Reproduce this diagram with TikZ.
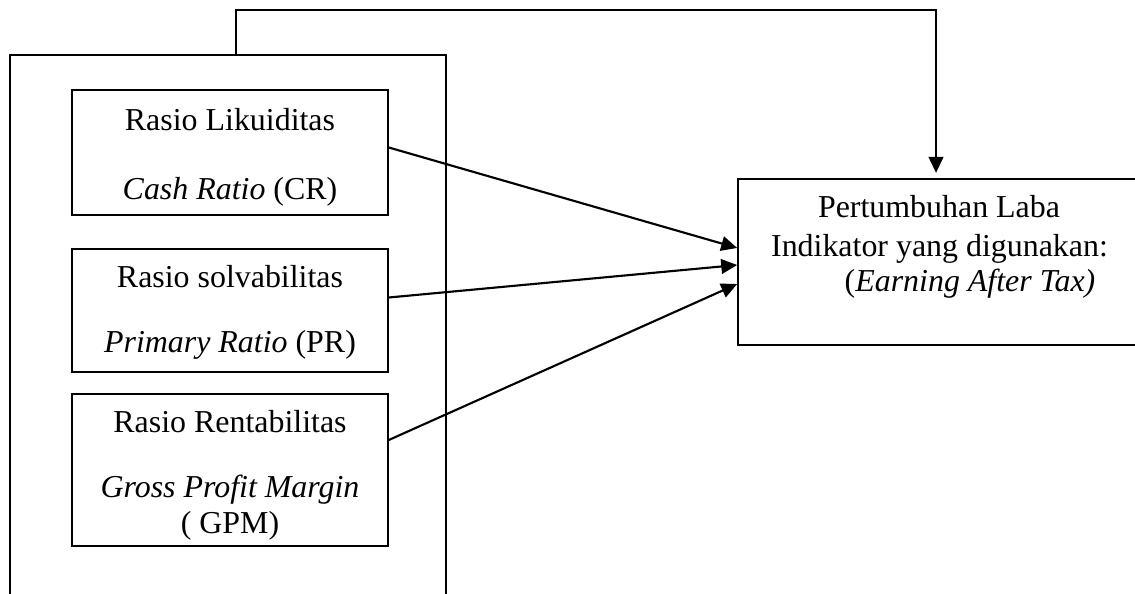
\documentclass[tikz,border=0pt]{standalone}
\usepackage{fontspec}
\setmainfont{Liberation Serif}
\usetikzlibrary{positioning, calc, arrows.meta}

\begin{document}
\begin{tikzpicture}[
    x=0.376pt, y=-0.376pt,
    line width=0.6pt,
    size/.style 2 args={minimum width=#1*0.376pt, minimum height=#2*0.376pt},
    box/.style={draw, inner sep=0pt},
    txt/.style={font=\fontsize{12}{14}\selectfont, anchor=base, inner sep=0pt},
    arr/.style={line width=0.8pt, -{Triangle[length=6pt,width=5.5pt]}}
]
    \useasboundingbox (0,0) rectangle (1135,594);

    % Outer frame (open at the bottom)
    \node[box, size={436}{565}] (group) at (228,337.5) {};

    % Ratio boxes
    \node[box, size={316}{125}] (likuid) at (230,152.5) {};
    \node[txt] (likuidA) at (230,131) {Rasio Likuiditas};
    \node[txt] (likuidB) at (230,200) {\textit{Cash Ratio} (CR)};

    \node[box, size={316}{123}] (solva) at (230,310.5) {};
    \node[txt] (solvaA) at (230,288) {Rasio solvabilitas};
    \node[txt] (solvaB) at (230,353) {\textit{Primary Ratio} (PR)};

    \node[box, size={316}{152}] (renta) at (230,470) {};
    \node[txt] (rentaA) at (230,433) {Rasio Rentabilitas};
    \node[txt] (rentaB) at (230,497) {\textit{Gross Profit Margin}};
    \node[txt] (rentaC) at (230,533) {( GPM)};

    % Dependent variable
    \node[box, size={402}{166}] (laba) at (939,262) {};
    \node[txt] (labaA) at (939,218) {Pertumbuhan Laba};
    \node[txt] (labaB) at (939.5,257) {Indikator yang digunakan:};
    \node[txt] (labaC) at (970,292) {(\textit{Earning After Tax)}};

    % Connectors
    \draw[arr] ($(likuid.east)+(0,-5)$) -- ($(laba.west)+(0,-14)$);
    \draw[arr] ($(solva.east)+(0,-13)$) -- ($(laba.west)+(0,3)$);
    \draw[arr] ($(renta.east)+(0,-30)$) -- ($(laba.west)+(0,22)$);
    \draw[arr, shorten >=2pt] ($(group.north)+(8,0)$) -- ++(0,-44) -| ($(laba.north)+(-3,0)$);
\end{tikzpicture}
\end{document}
